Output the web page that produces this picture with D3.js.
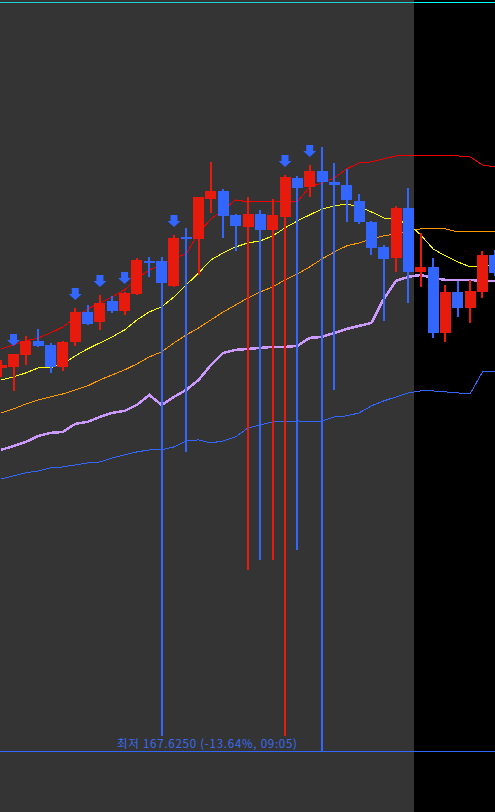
<!DOCTYPE html>
<html><head><meta charset="utf-8">
<script src="https://cdn.jsdelivr.net/npm/d3@7/dist/d3.min.js"></script>
<style>html,body{margin:0;padding:0;background:#000;overflow:hidden}</style>
</head><body><svg id="c" width="495" height="812"></svg>
<script>
const opens  = [186.775,186.825,187.425,188.125,187.925,186.825,188.075,189.575,189.075,190.125,189.625,190.475,192.125,192.125,190.875,193.325,193.225,195.225,195.625,194.425,193.825,194.475,193.675,194.325,196.275,195.825,196.625,196.075,195.925,195.125,194.075,192.825,192.275,194.775,191.575,191.825,188.525,190.575,189.775,190.575,192.425];
const highs  = [187.175,187.475,188.375,188.725,188.025,188.125,189.775,189.925,190.425,190.375,190.575,192.275,192.325,192.325,193.425,193.775,195.325,197.075,195.725,194.475,195.325,194.675,195.225,196.425,196.375,196.925,197.825,197.025,196.725,195.475,194.125,192.925,194.875,195.775,193.525,192.275,190.925,191.125,191.175,192.625,192.675];
const lows   = [186.325,185.625,186.925,187.825,186.525,186.625,187.875,188.925,188.675,189.525,189.425,190.425,191.325,168.375,190.825,182.575,191.425,194.525,193.275,192.625,176.675,177.175,177.175,168.375,177.675,195.325,167.625,185.675,194.075,193.975,192.425,189.125,191.575,190.025,190.825,188.275,188.075,189.325,189.025,190.275,191.375];
const closes = [186.925,187.475,188.125,187.875,186.825,188.075,189.575,188.975,190.025,189.625,190.525,192.175,192.025,191.025,193.275,193.225,195.325,195.625,194.375,193.875,194.475,193.675,194.425,196.325,195.775,196.625,196.075,195.925,195.175,194.075,192.775,192.225,194.775,191.575,191.825,188.525,190.575,189.775,190.625,192.425,191.525];

const upperBand = [187.73,187.93,188.13,188.28,188.53,188.83,189.28,189.73,190.03,190.33,190.68,191.23,191.68,191.93,192.28,192.48,193.53,194.23,194.68,195.18,195.08,195.08,195.08,195.13,195.08,195.83,196.03,196.28,196.73,197.03,197.08,197.23,197.38,197.38,197.38,197.38,197.38,197.38,197.33,196.93,196.83];
const yellowMA = [186.18,186.33,186.53,186.78,186.78,186.98,187.38,187.73,188.03,188.33,188.68,189.18,189.58,189.83,190.33,190.93,191.53,192.18,192.53,192.83,193.03,193.13,193.38,193.78,194.13,194.43,194.73,194.88,194.98,194.83,194.58,194.28,194.18,193.98,193.43,192.73,192.38,192.08,191.83,191.88,191.93];
const orangeMA = [184.53,184.73,184.98,185.18,185.33,185.48,185.68,185.88,186.18,186.43,186.68,186.98,187.33,187.58,188.03,188.43,188.78,189.18,189.58,189.93,190.28,190.58,190.83,191.18,191.48,191.83,192.23,192.58,192.88,193.03,193.23,193.38,193.48,193.63,193.73,193.73,193.73,193.58,193.58,193.58,193.58];
const lavenderMA = [182.68,182.88,183.08,183.38,183.53,183.58,183.98,184.08,184.33,184.53,184.63,184.93,185.43,184.93,185.33,185.68,186.18,186.93,187.53,187.68,187.73,187.78,187.83,187.83,187.88,188.28,188.33,188.53,188.73,188.88,189.03,190.23,191.13,191.33,191.43,191.28,191.18,191.18,191.18,191.13,191.13];
const lowerBand = [181.23,181.38,181.53,181.63,181.78,181.83,181.93,182.03,182.08,182.28,182.43,182.58,182.68,182.68,182.83,183.13,183.18,183.03,183.13,183.33,183.78,183.93,184.08,184.08,184.13,184.08,184.13,184.33,184.38,184.53,184.88,185.13,185.33,185.53,185.63,185.63,185.58,185.53,185.48,186.58,186.58];

const signalIdx = [1,6,8,10,14,23,25];
const sessionEndIdx = 33;
const lowValue = 167.625, lowPct = "-13.64", lowTime = "09:05";

const W = 495, H = 812;
const RED = "#e61b0e", BLUE = "#3366ff";
const svg = d3.select("#c");
const x = d3.scaleLinear().domain([0, 40]).range([1.2, 494.8]);
const y = d3.scaleLinear().domain([167.625, 205.175]).range([751, 0]);
const bw = 11;

svg.append("rect").attr("x",0).attr("y",0).attr("width",W).attr("height",H).attr("fill","#000");
const splitX = Math.round(x(sessionEndIdx) + bw/2);
svg.append("rect").attr("x",0).attr("y",0).attr("width",splitX).attr("height",H).attr("fill","#343434");

const lines = svg.append("g").attr("shape-rendering","crispEdges");
lines.append("rect").attr("x",0).attr("width",splitX).attr("y",2).attr("height",1).attr("fill","#20d0d0");
lines.append("rect").attr("x",splitX).attr("width",W-splitX).attr("y",2).attr("height",1).attr("fill","#00ffff");

function drawLine(arr, color, width){
  const ln = d3.line().x((d,i)=>x(i)).y(d=>y(d));
  lines.append("path").attr("d", ln(arr)).attr("fill","none").attr("stroke",color).attr("stroke-width",width);
}
drawLine(lowerBand, "#3366ff", 1);
drawLine(lavenderMA, "#cc99ff", 2.5);
drawLine(orangeMA, "#ff9900", 1);
drawLine(yellowMA, "#ffff00", 1);
drawLine(upperBand, "#ee0000", 1);

lines.append("rect").attr("x",0).attr("width",W).attr("y",Math.round(y(lowValue))).attr("height",1).attr("fill",BLUE);

const g = svg.append("g").attr("shape-rendering","crispEdges");
d3.range(opens.length).forEach(i=>{
  const up = closes[i] >= opens[i];
  const col = up ? RED : BLUE;
  const cx = x(i);
  g.append("rect").attr("x",Math.round(cx)-1).attr("width",2)
    .attr("y",Math.round(y(highs[i]))).attr("height",Math.max(1,Math.round(y(lows[i]))-Math.round(y(highs[i]))))
    .attr("fill",col);
  const top = Math.round(y(Math.max(opens[i],closes[i])));
  const bot = Math.round(y(Math.min(opens[i],closes[i])));
  g.append("rect").attr("x",Math.round(cx - bw/2)).attr("width",bw)
    .attr("y",top).attr("height",Math.max(2,bot-top)).attr("fill",col);
});

signalIdx.forEach(i=>{
  const cx = x(i), tip = y(highs[i]) - 8;
  const p = [[cx-3.5,tip-12],[cx+3.5,tip-12],[cx+3.5,tip-6],[cx+6.5,tip-6],[cx,tip],[cx-6.5,tip-6],[cx-3.5,tip-6]];
  svg.append("polygon").attr("points",p.map(q=>q.join(",")).join(" ")).attr("fill",BLUE);
});

svg.append("text").attr("x", 117).attr("y", Math.round(y(lowValue)) - 3)
  .attr("font-family","'Noto Sans CJK KR', 'Noto Sans', sans-serif")
  .attr("font-size",11.5).attr("fill","#3a6cf2")
  .attr("textLength",180).attr("lengthAdjust","spacing")
  .text(`최저 ${lowValue.toFixed(4)} (${lowPct}%, ${lowTime})`);
</script></body></html>
